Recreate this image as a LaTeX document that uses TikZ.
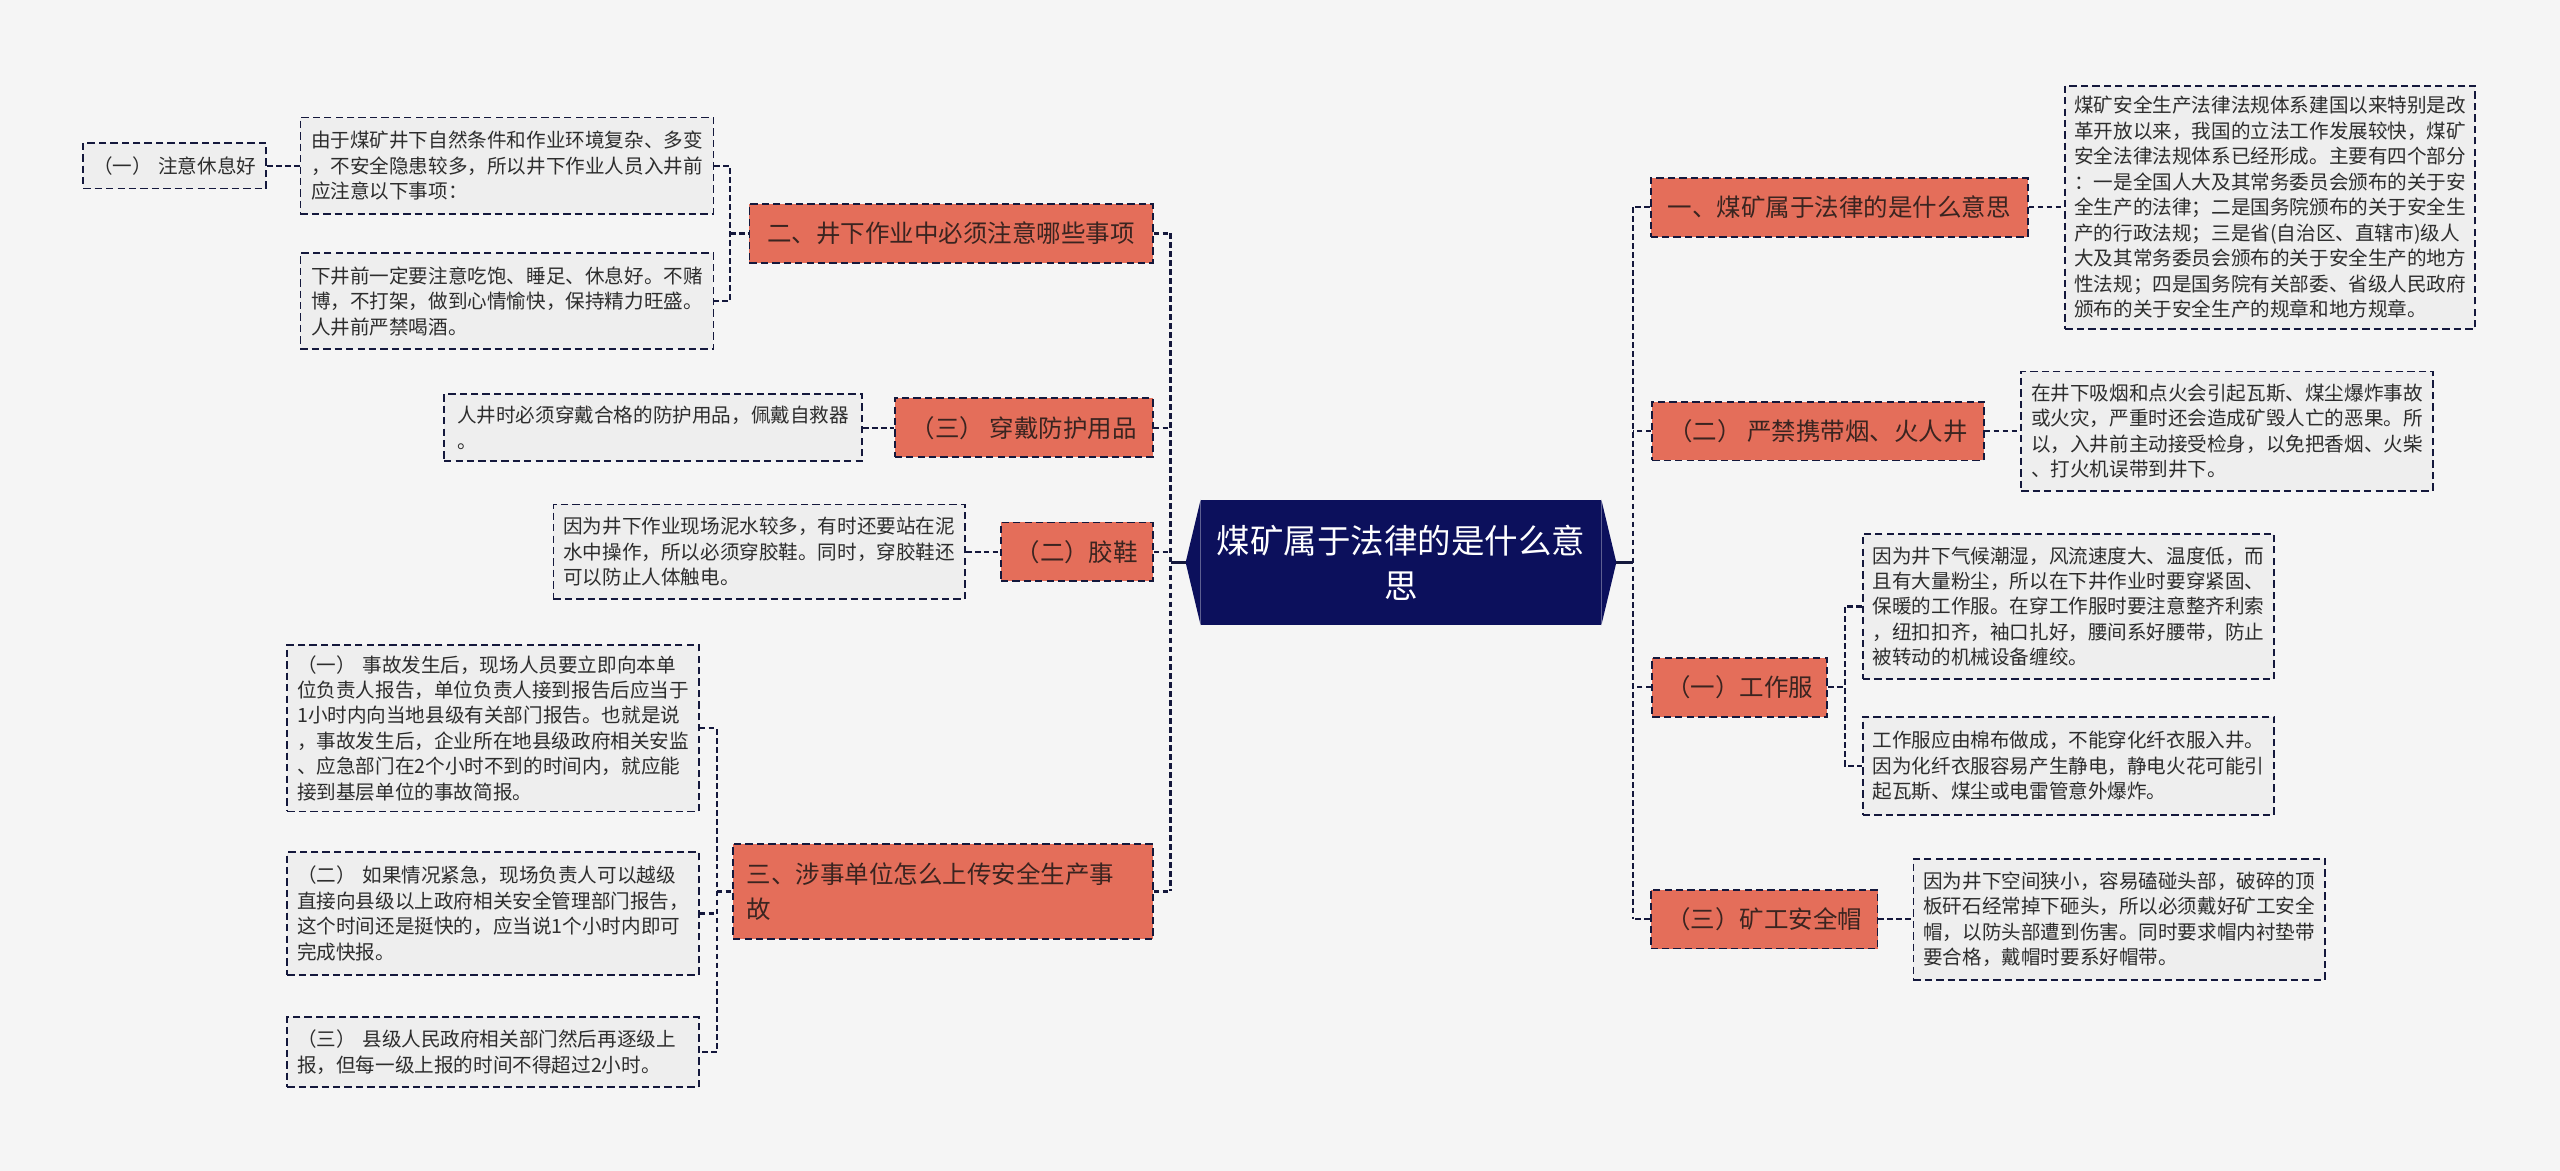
\documentclass[tikz,border=0pt]{standalone}
\usepackage{fontspec}
\setmainfont{Noto Sans CJK SC}
\usepackage{xcolor}
\usetikzlibrary{calc}

\definecolor{bgc}{RGB}{245,245,245}
\definecolor{navy}{RGB}{12,16,92}
\definecolor{edgec}{RGB}{20,24,60}
\definecolor{orangec}{RGB}{228,110,90}
\definecolor{notec}{RGB}{238,238,238}
\definecolor{textc}{RGB}{45,45,45}
\definecolor{topicc}{RGB}{58,36,32}

\begin{document}
\begin{tikzpicture}[x=1pt,y=-1pt,
    topic/.style={rectangle,fill=orangec,draw=edgec,line width=1.1pt,dash pattern=on 4.5pt off 2.5pt,
      text=topicc,font=\fontsize{15pt}{21pt}\selectfont,minimum height=36pt,inner sep=0pt},
    note/.style={rectangle,fill=notec,draw=edgec,line width=1.1pt,dash pattern=on 4.5pt off 2.5pt,
      text=textc,font=\fontsize{12pt}{15.6pt}\selectfont,align=left,text width=240pt,inner sep=0pt},
    root/.style={rectangle,fill=navy,text=white,align=center,inner sep=0pt,
      minimum width=245pt,minimum height=76.6pt,font=\fontsize{20.5pt}{27.6pt}\selectfont},
    link/.style={draw=edgec,line width=1.4pt,dash pattern=on 3.5pt off 2pt}]

    \fill[bgc] (0,0) rectangle (1568,717);
    \useasboundingbox (0,0) rectangle (1568,717);

    \node[root] (root) at (858.1,344.5) {煤矿属于法律的是什么意\\思};
    \fill[navy] (root.north west) -- ($(root.west)+(-9.2,0)$) -- (root.south west) -- cycle;
    \fill[navy] (root.north east) -- ($(root.east)+(9.2,0)$) -- (root.south east) -- cycle;

    \coordinate (rootl) at ($(root.west)+(-9.2,0)$);
    \coordinate (rootr) at ($(root.east)+(9.2,0)$);
    \coordinate (spl) at (717,344.5);
    \coordinate (spr) at (1000,344.5);

    % left side
    \node[topic,minimum width=247pt] (b1) at (582.5,143) {二、井下作业中必须注意哪些事项};
    \node[topic,minimum width=158pt] (b2) at (627,262) {（三） 穿戴防护用品};
    \node[topic,minimum width=93pt] (b3) at (659.5,338) {（二）胶鞋};
    \node[topic,minimum width=257pt,minimum height=58pt,align=left,text width=240pt] (b4) at (577.5,546)
      {三、涉事单位怎么上传安全生产事\\故};

    \node[note,text width=100pt,align=center,minimum width=112pt,minimum height=28pt] (a1) at (107,101.5) {（一） 注意休息好};
    \node[note,minimum width=253pt,minimum height=59pt] (d1) at (310.5,101.5)
      {由于煤矿井下自然条件和作业环境复杂、多变\\
       ，不安全隐患较多，所以井下作业人员入井前\\
       应注意以下事项：};
    \node[note,minimum width=253pt,minimum height=59pt] (d2) at (310.5,184.5)
      {下井前一定要注意吃饱、睡足、休息好。不赌\\
       博，不打架，做到心情愉快，保持精力旺盛。\\
       人井前严禁喝酒。};
    \node[note,minimum width=256pt,minimum height=41pt] (d3) at (400,262)
      {人井时必须穿戴合格的防护用品，佩戴自救器\\
       。};
    \node[note,minimum width=252pt,minimum height=58pt] (d4) at (465,338)
      {因为井下作业现场泥水较多，有时还要站在泥\\
       水中操作，所以必须穿胶鞋。同时，穿胶鞋还\\
       可以防止人体触电。};
    \node[note,minimum width=252pt,minimum height=102pt] (d5) at (302,446)
      {（一） 事故发生后，现场人员要立即向本单\\
       位负责人报告，单位负责人接到报告后应当于\\
       1小时内向当地县级有关部门报告。也就是说\\
       ，事故发生后，企业所在地县级政府相关安监\\
       、应急部门在2个小时不到的时间内，就应能\\
       接到基层单位的事故简报。};
    \node[note,minimum width=252pt,minimum height=75pt] (d6) at (302,559.5)
      {（二） 如果情况紧急，现场负责人可以越级\\
       直接向县级以上政府相关安全管理部门报告，\\
       这个时间还是挺快的，应当说1个小时内即可\\
       完成快报。};
    \node[note,minimum width=252pt,minimum height=43pt] (d7) at (302,644.5)
      {（三） 县级人民政府相关部门然后再逐级上\\
       报，但每一级上报的时间不得超过2小时。};

    % right side
    \node[topic,minimum width=231pt] (r1) at (1126.5,127) {一、煤矿属于法律的是什么意思};
    \node[topic,minimum width=203pt] (r2) at (1113.5,264) {（二） 严禁携带烟、火人井};
    \node[topic,minimum width=107pt] (r3) at (1065.5,421) {（一）工作服};
    \node[topic,minimum width=139pt] (r4) at (1080.5,563) {（三）矿工安全帽};

    \node[note,minimum width=251pt,minimum height=149pt] (d8) at (1390.5,127)
      {煤矿安全生产法律法规体系建国以来特别是改\\
       革开放以来，我国的立法工作发展较快，煤矿\\
       安全法律法规体系已经形成。主要有四个部分\\
       ：一是全国人大及其常务委员会颁布的关于安\\
       全生产的法律；二是国务院颁布的关于安全生\\
       产的行政法规；三是省(自治区、直辖市)级人\\
       大及其常务委员会颁布的关于安全生产的地方\\
       性法规；四是国务院有关部委、省级人民政府\\
       颁布的关于安全生产的规章和地方规章。};
    \node[note,minimum width=252pt,minimum height=73pt] (d9) at (1364,264)
      {在井下吸烟和点火会引起瓦斯、煤尘爆炸事故\\
       或火灾，严重时还会造成矿毁人亡的恶果。所\\
       以，入井前主动接受检身，以免把香烟、火柴\\
       、打火机误带到井下。};
    \node[note,minimum width=252pt,minimum height=89pt] (d10) at (1267,371.5)
      {因为井下气候潮湿，风流速度大、温度低，而\\
       且有大量粉尘，所以在下井作业时要穿紧固、\\
       保暖的工作服。在穿工作服时要注意整齐利索\\
       ，纽扣扣齐，袖口扎好，腰间系好腰带，防止\\
       被转动的机械设备缠绞。};
    \node[note,minimum width=252pt,minimum height=60pt] (d11) at (1267,469)
      {工作服应由棉布做成，不能穿化纤衣服入井。\\
       因为化纤衣服容易产生静电，静电火花可能引\\
       起瓦斯、煤尘或电雷管意外爆炸。};
    \node[note,minimum width=252pt,minimum height=74pt] (d12) at (1298,563)
      {因为井下空间狭小，容易磕碰头部，破碎的顶\\
       板矸石经常掉下砸头，所以必须戴好矿工安全\\
       帽，以防头部遭到伤害。同时要求帽内衬垫带\\
       要合格，戴帽时要系好帽带。};

    % connectors
    \draw[edgec,line width=1.4pt] (rootl) -- (spl);
    \draw[edgec,line width=1.4pt] (rootr) -- (spr);
    \draw[link] (b1.east -| spl) -- (b4.east -| spl);
    \draw[link] (r1.west -| spr) -- (r4.west -| spr);
    \foreach \n in {b1,b2,b3,b4} \draw[link] (\n.east) -- (\n.east -| spl);
    \foreach \n in {r1,r2,r3,r4} \draw[link] (\n.west) -- (\n.west -| spr);

    \coordinate (k1) at (447,143);
    \coordinate (k4) at (439,546);
    \coordinate (k3) at (1130,421);

    \draw[link] (a1.east) -- (d1.west);
    \draw[link] (d1.east) -| (k1) |- (d2.east);
    \draw[link] (k1) -- (b1.west);
    \draw[link] (d3.east) -- (b2.west);
    \draw[link] (d4.east) -- (b3.west);
    \draw[link] (d5.east) -| (k4) |- (d7.east);
    \draw[link] (d6.east) -- (d6.east -| k4);
    \draw[link] (k4) -- (b4.west);

    \draw[link] (r1.east) -- (d8.west);
    \draw[link] (r2.east) -- (d9.west);
    \draw[link] (d10.west) -| (k3) |- (d11.west);
    \draw[link] (r3.east) -- (k3);
    \draw[link] (r4.east) -- (d12.west);
\end{tikzpicture}
\end{document}
